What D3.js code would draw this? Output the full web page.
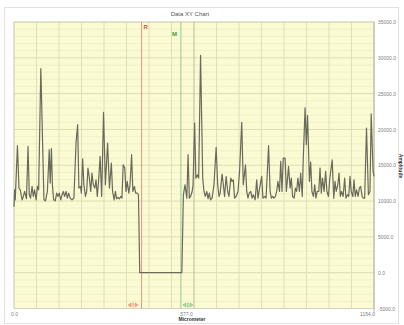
<!DOCTYPE html>
<html>
<head>
<meta charset="utf-8">
<script src="https://cdn.jsdelivr.net/npm/d3@7"></script>
<style>
  html, body { margin: 0; padding: 0; background: #ffffff; }
  svg { display: block; font-family: "Liberation Sans", Arial, sans-serif; }
</style>
</head>
<body>
<svg id="chart" width="404" height="325"></svg>
<script>
// Profile samples: position (micrometer) and measured amplitude
const micrometer = [0, 2, 4, 11, 16, 20, 26, 30, 34, 40, 45, 49, 53, 58, 62, 66, 71, 75, 79, 86,
  96, 101, 107, 113, 116, 120, 123, 127, 132, 137, 141, 145, 150, 154, 158, 162, 167, 171, 175, 180,
  186, 192, 199, 204, 208, 213, 216, 220, 224, 229, 233, 237, 241, 246, 250, 254, 259, 263, 267, 271,
  276, 281, 287, 293, 300, 306, 312, 316, 321, 325, 329, 333, 338, 342, 346, 350, 355, 359, 363, 368,
  372, 377, 381, 386, 390, 395, 399, 403, 538, 543, 548, 554, 558, 562, 566, 571, 574, 579, 583, 588,
  592, 598, 605, 609, 613, 618, 622, 626, 630, 635, 641, 648, 653, 657, 661, 667, 671, 675, 680, 685,
  689, 695, 699, 703, 707, 712, 718, 723, 730, 735, 742, 746, 750, 754, 759, 763, 767, 773, 778, 782,
  789, 794, 798, 804, 808, 816, 821, 825, 829, 833, 838, 842, 846, 851, 855, 859, 863, 869, 873, 876,
  880, 885, 889, 893, 898, 902, 906, 910, 915, 919, 924, 927, 933, 937, 941, 947, 951, 955, 960, 964,
  968, 972, 977, 981, 985, 989, 994, 999, 1003, 1008, 1012, 1016, 1020, 1025, 1029, 1033, 1038, 1042, 1046, 1050,
  1055, 1060, 1064, 1069, 1073, 1077, 1081, 1086, 1090, 1094, 1098, 1103, 1107, 1111, 1116, 1120, 1124, 1130, 1136, 1141,
  1145, 1151, 1154];

const amplitude = [9200, 11570, 10175, 17730, 11810, 11570, 10175, 10640, 11340, 10320, 17630, 10870, 10410, 12040, 10640, 11570, 10175, 12040, 11570, 28500,
  10175, 10035, 11340, 17170, 12500, 17310, 12270, 10175, 10035, 11110, 10640, 11110, 10175, 10870, 11340, 10640, 11340, 10410, 11110, 10410,
  10175, 10410, 18240, 20660, 11810, 12040, 11110, 15910, 12270, 10640, 11340, 14600, 13440, 11340, 13900, 12270, 11810, 12970, 10640, 12740,
  16240, 10640, 22390, 12270, 18100, 11810, 15300, 11340, 10175, 11340, 10320, 10500, 10320, 10640, 10410, 15070, 14600, 11340, 12740, 11110,
  12270, 16470, 11340, 12040, 11110, 11110, 10900, 0, 0, 10870, 12270, 10410, 16470, 10410, 10640, 11340, 12270, 20900, 13200, 13670,
  13200, 30360, 13200, 11340, 10640, 11340, 10320, 11110, 10175, 10410, 12270, 17500, 12270, 10640, 11110, 13770, 12270, 10640, 13440, 11340,
  10640, 13200, 12740, 12970, 10410, 10640, 11340, 14140, 20990, 12270, 15070, 11340, 10410, 11110, 11340, 10410, 10870, 10175, 12970, 10410,
  12270, 13440, 10410, 10640, 10410, 17730, 11340, 10410, 10640, 10410, 10640, 11340, 12740, 11340, 15540, 11340, 16000, 16000, 11340, 12740,
  14840, 11810, 13200, 10640, 10410, 11810, 11340, 13200, 11340, 13900, 10640, 15540, 23000, 17870, 21970, 12740, 15440, 11340, 10640, 12270,
  10410, 11340, 11340, 14600, 11110, 13200, 11340, 14140, 11340, 10640, 12970, 14370, 15770, 10410, 12740, 11340, 12270, 13900, 10640, 11340,
  10640, 13200, 10410, 10870, 10640, 13440, 11340, 10640, 12970, 10640, 11570, 10640, 11810, 12040, 10640, 10410, 10410, 20200, 10870, 11340,
  22160, 14140, 13440];

// Axis tick values
const yTicks = [-5000, 0, 5000, 10000, 15000, 20000, 25000, 30000, 35000];
const xTicks = [0, 577, 1154];

// Cursor positions (micrometer)
const cursorNames = ["R", "M"];
const cursorPos = [409, 535];

(function draw() {
  const svg = d3.select("#chart");
  const pLeft = 14, pRight = 374, pTop = 22, pBottom = 308.5;

  const x = d3.scaleLinear().domain([0, 1154]).range([pLeft, pRight]);
  const y = d3.scaleLinear().domain([-5000, 35000]).range([pBottom, pTop]);

  // Outer frame
  svg.append("rect")
    .attr("x", 4.5).attr("y", 7.5).attr("width", 394).attr("height", 316)
    .attr("fill", "#ffffff").attr("stroke", "#e2e2e2").attr("stroke-width", 1);

  // Title
  svg.append("text")
    .attr("x", 190).attr("y", 16)
    .attr("text-anchor", "middle")
    .attr("font-size", 6).attr("fill", "#555")
    .text("Data XY Chart");

  // Plot background
  svg.append("rect")
    .attr("x", pLeft).attr("y", pTop)
    .attr("width", pRight - pLeft).attr("height", pBottom - pTop)
    .attr("fill", "#fbfbd3");

  // Minor horizontal grid
  const minor = d3.range(-5000, 35001, 1000).filter(v => v % 5000 !== 0);
  svg.append("g").selectAll("line").data(minor).join("line")
    .attr("x1", pLeft).attr("x2", pRight)
    .attr("y1", d => y(d)).attr("y2", d => y(d))
    .attr("stroke", "#ecebc4").attr("stroke-width", 0.7);

  // Major horizontal grid
  svg.append("g").selectAll("line").data(yTicks).join("line")
    .attr("x1", pLeft).attr("x2", pRight)
    .attr("y1", d => y(d)).attr("y2", d => y(d))
    .attr("stroke", "#d9d8ae").attr("stroke-width", 0.9);

  // Vertical grid, 16 divisions
  const vGrid = d3.range(17).map(i => i * 1154 / 16);
  svg.append("g").selectAll("line").data(vGrid).join("line")
    .attr("x1", d => x(d)).attr("x2", d => x(d))
    .attr("y1", pTop).attr("y2", pBottom)
    .attr("stroke", d => Math.abs(d - 577) < 1 ? "#b9bc9c" : "#dcdbb2")
    .attr("stroke-width", d => Math.abs(d - 577) < 1 ? 1 : 0.9);

  // Plot border
  svg.append("rect")
    .attr("x", pLeft).attr("y", pTop)
    .attr("width", pRight - pLeft).attr("height", pBottom - pTop)
    .attr("fill", "none").attr("stroke", "#d0d0c0").attr("stroke-width", 0.8);

  // Right axis line extended slightly below plot
  svg.append("line")
    .attr("x1", pRight).attr("x2", pRight)
    .attr("y1", pTop).attr("y2", pBottom + 4)
    .attr("stroke", "#b8b8b0").attr("stroke-width", 1);

  // Cursor lines
  const cursorColor = ["#dc9a86", "#9cc596"];
  const cursorText = ["#c8553c", "#3c9a3c"];
  svg.append("g").selectAll("line").data(cursorPos).join("line")
    .attr("x1", d => x(d)).attr("x2", d => x(d))
    .attr("y1", pTop).attr("y2", pBottom)
    .attr("stroke", (d, i) => cursorColor[i]).attr("stroke-width", 1);

  // Signal trace
  const pts = micrometer.map((m, i) => [m, amplitude[i]]);
  svg.append("path")
    .datum(pts)
    .attr("fill", "none")
    .attr("stroke", "#6a6a5c")
    .attr("stroke-width", 1.2)
    .attr("stroke-linejoin", "round")
    .attr("d", d3.line().x(d => x(d[0])).y(d => y(d[1])));

  // Cursor labels
  svg.append("text").attr("x", x(cursorPos[0]) + 2).attr("y", 29)
    .attr("font-size", 6).attr("font-weight", "bold").attr("fill", cursorText[0]).text(cursorNames[0]);
  svg.append("text").attr("x", x(cursorPos[1]) - 9).attr("y", 36)
    .attr("font-size", 6).attr("font-weight", "bold").attr("fill", cursorText[1]).text(cursorNames[1]);

  // Cursor handles at the bottom of the plot
  function handle(cx, fill, stroke) {
    const g = svg.append("g").attr("transform", `translate(${cx},305)`);
    g.append("path").attr("d", "M-5,0 L-2,-2 L-2,2 Z").attr("fill", fill).attr("stroke", stroke).attr("stroke-width", 0.5);
    g.append("path").attr("d", "M5,0 L2,-2 L2,2 Z").attr("fill", fill).attr("stroke", stroke).attr("stroke-width", 0.5);
    g.append("line").attr("x1", 0).attr("x2", 0).attr("y1", -2.5).attr("y2", 2.5).attr("stroke", stroke).attr("stroke-width", 0.8);
  }
  handle(x(cursorPos[0]) - 8.5, "#f4b090", "#e07a5a");
  handle(x(cursorPos[1]) + 7, "#b8e0b0", "#62aa62");

  // Y axis labels on the right
  const yAxis = d3.axisRight(y).tickValues(yTicks).tickSize(0).tickPadding(4)
    .tickFormat(d => d.toFixed(1));
  svg.append("g").attr("transform", `translate(${pRight},0)`).call(yAxis)
    .call(g => g.select(".domain").remove())
    .call(g => g.selectAll("text").attr("font-size", 5).attr("fill", "#808080").attr("font-family", "Liberation Sans, Arial, sans-serif"));

  // X axis labels
  const xAxis = d3.axisBottom(x).tickValues(xTicks).tickSize(0).tickPadding(4)
    .tickFormat(d => d.toFixed(1));
  const xOffsets = [0, -8, -7];
  svg.append("g").attr("transform", `translate(0,${pBottom})`).call(xAxis)
    .call(g => g.select(".domain").remove())
    .call(g => g.selectAll("text")
      .attr("font-size", 5).attr("fill", "#808080").attr("font-family", "Liberation Sans, Arial, sans-serif")
      .attr("dx", (d, i) => xOffsets[i]));

  // Axis titles
  svg.append("text").attr("x", 192).attr("y", 321)
    .attr("text-anchor", "middle").attr("font-size", 5).attr("font-weight", "bold").attr("fill", "#333")
    .text("Micrometer");
  svg.append("text")
    .attr("transform", "translate(399,166) rotate(90)")
    .attr("text-anchor", "middle").attr("font-size", 5).attr("font-weight", "bold").attr("fill", "#333")
    .text("Amplitude");
})();
</script>
</body>
</html>
